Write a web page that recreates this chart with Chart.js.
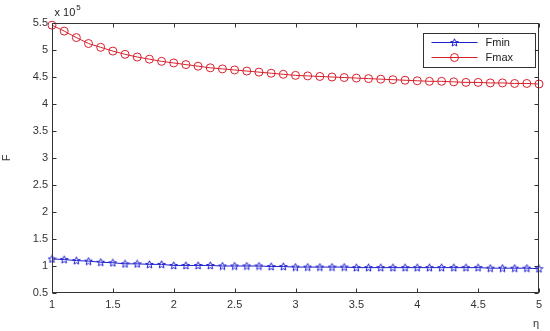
<!DOCTYPE html>
<html>
<head>
<meta charset="utf-8">
<script src="https://cdn.jsdelivr.net/npm/chart.js@4.4.0/dist/chart.umd.min.js"></script>
<style>
  html, body { margin: 0; padding: 0; background: #fff; }
  #wrap { width: 550px; height: 331px; }
</style>
</head>
<body>
<div id="wrap"><canvas id="chart"></canvas></div>
<script>
// eta values (x axis)
const eta = [1.0, 1.1, 1.2, 1.3, 1.4, 1.5, 1.6, 1.7, 1.8, 1.9,
             2.0, 2.1, 2.2, 2.3, 2.4, 2.5, 2.6, 2.7, 2.8, 2.9,
             3.0, 3.1, 3.2, 3.3, 3.4, 3.5, 3.6, 3.7, 3.8, 3.9,
             4.0, 4.1, 4.2, 4.3, 4.4, 4.5, 4.6, 4.7, 4.8, 4.9, 5.0];

// F values in units of 1e5
const fMin = [1.13, 1.12, 1.10, 1.09, 1.07, 1.06, 1.04, 1.04, 1.03, 1.03,
              1.01, 1.01, 1.01, 1.01, 1.00, 1.00, 1.00, 1.00, 0.99, 0.99,
              0.98, 0.98, 0.98, 0.98, 0.98, 0.97, 0.97, 0.97, 0.97, 0.97,
              0.97, 0.97, 0.97, 0.97, 0.97, 0.97, 0.96, 0.96, 0.96, 0.96, 0.95];
const fMax = [5.46, 5.35, 5.23, 5.12, 5.05, 4.98, 4.92, 4.87, 4.83, 4.79,
              4.76, 4.73, 4.70, 4.67, 4.65, 4.63, 4.61, 4.59, 4.57, 4.55,
              4.53, 4.52, 4.51, 4.50, 4.49, 4.48, 4.47, 4.46, 4.45, 4.44,
              4.43, 4.42, 4.42, 4.41, 4.40, 4.40, 4.39, 4.39, 4.38, 4.38, 4.37];

const xTicks = [1, 1.5, 2, 2.5, 3, 3.5, 4, 4.5, 5];
const yTicks = [0.5, 1, 1.5, 2, 2.5, 3, 3.5, 4, 4.5, 5, 5.5];

const blue = '#2020d0';
const red = '#d8202c';
const axisColor = '#333';
const fontFamily = '"Liberation Sans", Arial, sans-serif';

// pentagram marker like matlab 'p'
function makeStar(color) {
  const c = document.createElement('canvas');
  c.width = 9; c.height = 9;
  const g = c.getContext('2d');
  g.strokeStyle = color;
  g.lineWidth = 1;
  g.beginPath();
  for (let i = 0; i < 10; i++) {
    const r = i % 2 === 0 ? 4 : 1.8;
    const ang = -Math.PI / 2 + i * Math.PI / 5;
    const px = 4.5 + r * Math.cos(ang), py = 4.8 + r * Math.sin(ang);
    if (i === 0) g.moveTo(px, py); else g.lineTo(px, py);
  }
  g.closePath();
  g.stroke();
  return c;
}
const starImg = makeStar(blue);

function pts(ys) {
  return eta.map((x, i) => ({ x: x, y: ys[i] }));
}

// box, inward ticks, exponent label and legend, matlab style
const frame = {
  id: 'frame',
  afterDraw(chart) {
    const { ctx, chartArea: a, scales: { x, y } } = chart;
    ctx.save();
    ctx.strokeStyle = axisColor;
    ctx.lineWidth = 1;
    const L = Math.round(a.left) + 0.5, R = Math.round(a.right) - 0.5;
    const T = Math.round(a.top) + 0.5, B = Math.round(a.bottom) - 0.5;
    ctx.strokeRect(L, T, R - L, B - T);
    ctx.beginPath();
    xTicks.forEach(v => {
      const px = Math.round(x.getPixelForValue(v)) + 0.5;
      ctx.moveTo(px, B); ctx.lineTo(px, B - 4);
      ctx.moveTo(px, T); ctx.lineTo(px, T + 4);
    });
    yTicks.forEach(v => {
      const py = Math.round(y.getPixelForValue(v)) + 0.5;
      ctx.moveTo(L, py); ctx.lineTo(L + 4, py);
      ctx.moveTo(R, py); ctx.lineTo(R - 4, py);
    });
    ctx.stroke();

    // exponent
    ctx.fillStyle = '#222';
    ctx.textBaseline = 'middle';
    ctx.textAlign = 'left';
    ctx.font = '11px ' + fontFamily;
    ctx.fillText('x 10', L + 2, 13);
    const w = ctx.measureText('x 10').width;
    ctx.font = '8px ' + fontFamily;
    ctx.fillText('5', L + 2 + w + 1, 8);

    // legend
    const bx = R - 116, by = T + 9, bw = 112, bh = 34;
    ctx.fillStyle = '#fff';
    ctx.fillRect(bx, by, bw, bh);
    ctx.strokeStyle = axisColor;
    ctx.strokeRect(Math.round(bx) + 0.5, Math.round(by) + 0.5, bw, bh);
    const rows = [
      { label: 'Fmin', color: blue, style: starImg },
      { label: 'Fmax', color: red, style: 'circle' }
    ];
    rows.forEach((r, i) => {
      const ry = by + 10 + i * 15;
      ctx.strokeStyle = r.color;
      ctx.lineWidth = 1;
      ctx.beginPath();
      ctx.moveTo(bx + 9, ry); ctx.lineTo(bx + 55, ry);
      ctx.stroke();
      ctx.fillStyle = 'rgba(0,0,0,0)';
      Chart.helpers.drawPoint(ctx, {
        pointStyle: r.style, radius: 4, borderWidth: 1, rotation: 0
      }, bx + 32, ry);
      ctx.fillStyle = '#222';
      ctx.font = '11px ' + fontFamily;
      ctx.fillText(r.label, bx + 63, ry);
    });
    ctx.restore();
  }
};

const config = {
  type: 'line',
  data: {
    datasets: [
      {
        label: 'Fmin',
        data: pts(fMin),
        borderColor: blue,
        backgroundColor: 'transparent',
        borderWidth: 1,
        pointStyle: starImg,
        pointRadius: 4,
        clip: false
      },
      {
        label: 'Fmax',
        data: pts(fMax),
        borderColor: red,
        backgroundColor: 'transparent',
        borderWidth: 1,
        pointStyle: 'circle',
        pointRadius: 4,
        pointBorderWidth: 1,
        pointBackgroundColor: 'transparent',
        clip: false
      }
    ]
  },
  options: {
    responsive: true,
    maintainAspectRatio: false,
    animation: false,
    layout: { padding: { top: 23, right: 11, left: 0, bottom: 0 } },
    plugins: {
      legend: { display: false },
      tooltip: { enabled: false }
    },
    scales: {
      x: {
        type: 'linear',
        min: 1, max: 5,
        grid: { display: false, drawTicks: false },
        border: { display: false },
        afterBuildTicks: s => { s.ticks = xTicks.map(v => ({ value: v })); },
        ticks: {
          color: '#333', padding: 5,
          font: { family: fontFamily, size: 11 },
          maxRotation: 0,
          callback: v => String(v)
        },
        title: {
          display: true, text: 'η', align: 'end', color: '#333',
          font: { family: fontFamily, size: 11 }, padding: { top: 6, bottom: 0 }
        },
        afterFit: s => { s.height = 38; }
      },
      y: {
        type: 'linear',
        min: 0.5, max: 5.5,
        grid: { display: false, drawTicks: false },
        border: { display: false },
        afterBuildTicks: s => { s.ticks = yTicks.map(v => ({ value: v })); },
        ticks: {
          color: '#333', padding: 4,
          font: { family: fontFamily, size: 11 },
          callback: v => String(v)
        },
        title: {
          display: true, text: 'F', color: '#333',
          font: { family: fontFamily, size: 11 }, padding: { top: 0, bottom: 0 }
        },
        afterFit: s => { s.width = 52; }
      }
    }
  },
  plugins: [frame]
};

new Chart(document.getElementById('chart'), config);
</script>
</body>
</html>
